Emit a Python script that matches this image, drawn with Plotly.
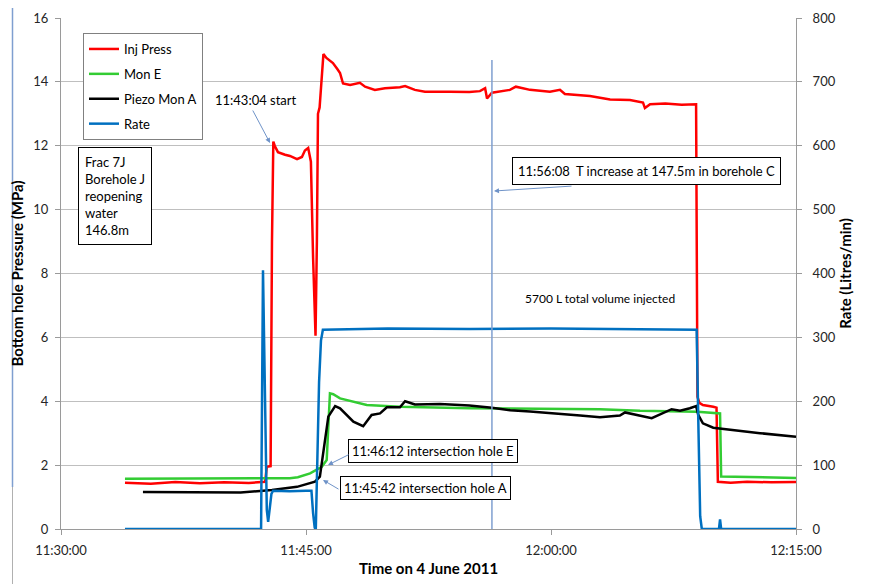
import plotly.graph_objects as go

DATE = "2011-06-04 "

# ---------------- data ----------------
rate_time = ["11:33:55", "11:42:15", "11:42:22", "11:42:30", "11:42:36", "11:42:41",
             "11:42:47", "11:42:53", "11:42:59", "11:44:00", "11:45:00", "11:45:20",
             "11:45:26", "11:45:32", "11:45:36", "11:45:42", "11:45:48", "11:45:55",
             "11:46:02", "11:50:00", "11:55:00", "12:00:00", "12:05:00", "12:08:55",
             "12:09:02", "12:09:08", "12:09:14", "12:10:17", "12:10:21", "12:10:25",
             "12:15:00"]
rate_val = [0, 0, 405, 150, 30, 11,
            30, 55, 60, 59, 60, 60,
            25, 2, 0, 100, 230, 295,
            312, 314, 313, 314, 313, 312,
            150, 20, 0, 0, 15, 0,
            0]

inj_time = ["11:33:55", "11:35:30", "11:37:00", "11:38:30", "11:40:00", "11:41:30",
            "11:42:30", "11:42:36", "11:42:50", "11:42:55", "11:43:00", "11:43:05",
            "11:43:17", "11:43:30", "11:43:43", "11:44:01", "11:44:15", "11:44:27",
            "11:44:45", "11:44:56", "11:45:08", "11:45:18", "11:45:26", "11:45:35",
            "11:45:40", "11:45:44", "11:45:50", "11:46:04", "11:46:15", "11:46:39",
            "11:46:55", "11:47:05", "11:47:16", "11:47:42", "11:48:18", "11:48:37",
            "11:49:13", "11:49:50", "11:50:45", "11:51:04", "11:51:40", "11:52:17",
            "11:53:49", "11:55:00", "11:55:39", "11:55:58", "11:56:05", "11:56:23",
            "11:57:29", "11:57:51", "11:58:43", "11:59:56", "12:00:33", "12:00:51",
            "12:02:23", "12:03:37", "12:04:50", "12:05:38", "12:05:45", "12:06:04",
            "12:07:00", "12:08:00", "12:08:53", "12:08:58", "12:09:05", "12:09:18",
            "12:09:56", "12:10:08", "12:10:13", "12:11:00", "12:12:00", "12:13:30",
            "12:15:00"]
inj_val = [1.45, 1.42, 1.47, 1.43, 1.46, 1.44,
           1.48, 1.95, 1.97, 9.0, 12.13, 12.0,
           11.8, 11.75, 11.72, 11.68, 11.62, 11.58,
           11.65, 11.85, 11.93, 11.5, 8.5, 6.05,
           9.0, 13.0, 13.2, 14.87, 14.75, 14.59,
           14.4, 14.28, 13.95, 13.9, 13.97, 13.85,
           13.75, 13.8, 13.83, 13.87, 13.75, 13.69,
           13.69, 13.68, 13.71, 13.8, 13.48, 13.66,
           13.75, 13.85, 13.75, 13.69, 13.75, 13.62,
           13.56, 13.45, 13.43, 13.35, 13.18, 13.3,
           13.32, 13.28, 13.3, 4.14, 3.95, 3.88,
           3.83, 3.8, 1.48, 1.45, 1.48, 1.46,
           1.47]

mone_time = ["11:33:55", "11:44:01", "11:44:30", "11:45:15", "11:45:58", "11:46:16",
             "11:46:22", "11:46:28", "11:46:40", "11:47:05", "11:48:43", "11:50:45",
             "11:55:00", "12:00:00", "12:03:00", "12:05:27", "12:08:58", "12:10:21",
             "12:10:25", "12:15:00"]
mone_val = [1.57, 1.59, 1.62, 1.74, 1.95, 2.16,
            3.2, 4.25, 4.22, 4.09, 3.88, 3.83,
            3.78, 3.77, 3.75, 3.7, 3.67, 3.62,
            1.64, 1.6]

piezo_time = ["11:35:01", "11:38:00", "11:41:00", "11:42:55", "11:44:27", "11:45:33",
              "11:45:51", "11:46:10", "11:46:22", "11:46:47", "11:47:05", "11:47:54",
              "11:48:30", "11:49:01", "11:49:32", "11:49:57", "11:50:45", "11:51:04",
              "11:51:40", "11:53:12", "11:55:00", "11:56:23", "11:57:30", "11:58:43",
              "11:59:56", "12:01:47", "12:03:00", "12:04:13", "12:04:32", "12:05:27",
              "12:06:10", "12:07:23", "12:07:54", "12:08:30", "12:08:53", "12:09:01",
              "12:09:18", "12:09:56", "12:11:34", "12:12:48", "12:15:00"]
piezo_val = [1.16, 1.15, 1.14, 1.22, 1.32, 1.48,
             1.64, 2.79, 3.52, 3.85, 3.78, 3.36,
             3.22, 3.57, 3.62, 3.81, 3.81, 4.0,
             3.9, 3.91, 3.87, 3.8, 3.72, 3.68,
             3.62, 3.55, 3.5, 3.55, 3.65, 3.54,
             3.47, 3.75, 3.7, 3.78, 3.85, 3.57,
             3.31, 3.17, 3.07, 3.0, 2.89]

event_time = "11:56:23"   # vertical marker line (T increase in borehole C)

x_ticks = ["11:30:00", "11:45:00", "12:00:00", "12:15:00"]

# ---------------- layout helpers ----------------
WIN_W, WIN_H = 882, 584
OFF = 8                      # page body margin of the html page
L, R, T, B = 61, 796, 18, 529  # plot area in window pixels
W, H = WIN_W - OFF, WIN_H - OFF


def px(x):
    return (x - L) / (R - L)


def py(y):
    return 1 - (y - T) / (B - T)


def ts(lst):
    return [DATE + t for t in lst]


FONT = "Lato"
fig = go.Figure()

fig.add_trace(go.Scatter(x=ts(inj_time), y=inj_val, name="Inj Press", mode="lines",
                         line=dict(color="#ff0000", width=2.5), legendgroup="a"))
fig.add_trace(go.Scatter(x=ts(mone_time), y=mone_val, name="Mon E", mode="lines",
                         line=dict(color="#33cc33", width=2.5), legendgroup="b"))
fig.add_trace(go.Scatter(x=ts(piezo_time), y=piezo_val, name="Piezo Mon A", mode="lines",
                         line=dict(color="#000000", width=2.5), legendgroup="c"))
fig.add_trace(go.Scatter(x=ts(rate_time), y=rate_val, name="Rate", mode="lines",
                         line=dict(color="#0070c0", width=2.5), yaxis="y2", legendgroup="d"))

# vertical event line
fig.add_shape(type="line", xref="x", yref="paper", x0=DATE + event_time, x1=DATE + event_time,
              y0=0, y1=py(60), line=dict(color="#7f9fd0", width=1.5))

# outer frame
fig.add_shape(type="rect", xref="paper", yref="paper", x0=px(12.5), x1=px(900), y0=py(7.5), y1=py(600),
              line=dict(color="#b0b0b0", width=1), layer="below")
fig.add_shape(type="line", xref="paper", yref="paper", x0=px(12.5), x1=px(12.5), y0=py(7.5), y1=py(487),
              line=dict(color="#7f9fd0", width=1.5), layer="below")

ann_font = dict(family=FONT, size=13, color="#000000")
ARROW = "#6f93c8"

annotations = [
    dict(text="11:43:04 start", x=px(213), y=py(100), xanchor="left", yanchor="middle",
         showarrow=False, font=ann_font),
    dict(text="", x=px(270), y=py(143), ax=252 - 270, ay=109 - 143, showarrow=True,
         arrowhead=2, arrowsize=1, arrowwidth=1, arrowcolor=ARROW, standoff=0),
    dict(text="Frac 7J<br>Borehole J<br>reopening<br>water<br>146.8m", x=px(78), y=py(147),
         xanchor="left", yanchor="top", align="left", showarrow=False, font=ann_font,
         bordercolor="#000000", borderwidth=1, borderpad=6, bgcolor="#ffffff"),
    dict(text="11:56:08&nbsp;&nbsp;T increase at 147.5m in borehole C", x=px(512), y=py(157),
         xanchor="left", yanchor="top", showarrow=False, font=ann_font,
         bordercolor="#000000", borderwidth=1, borderpad=5, bgcolor="#ffffff"),
    dict(text="", x=px(494), y=py(191), ax=573 - 494, ay=186 - 191, showarrow=True,
         arrowhead=2, arrowsize=1, arrowwidth=1, arrowcolor=ARROW, standoff=0),
    dict(text="5700 L total volume injected", x=px(523), y=py(298), xanchor="left",
         yanchor="middle", showarrow=False, font=dict(family=FONT, size=12, color="#000000")),
    dict(text="11:46:12 intersection hole E", x=px(348), y=py(439), xanchor="left", yanchor="top",
         showarrow=False, font=ann_font, bordercolor="#000000", borderwidth=1, borderpad=3,
         bgcolor="#ffffff"),
    dict(text="", x=px(328), y=py(465), ax=350 - 328, ay=454 - 465, showarrow=True,
         arrowhead=2, arrowsize=1, arrowwidth=1, arrowcolor=ARROW, standoff=0),
    dict(text="11:45:42 intersection hole A", x=px(340), y=py(476), xanchor="left", yanchor="top",
         showarrow=False, font=ann_font, bordercolor="#000000", borderwidth=1, borderpad=3,
         bgcolor="#ffffff"),
    dict(text="", x=px(323), y=py(480), ax=340 - 323, ay=490 - 480, showarrow=True,
         arrowhead=2, arrowsize=1, arrowwidth=1, arrowcolor=ARROW, standoff=0),
]
for a in annotations:
    a.setdefault("xref", "paper")
    a.setdefault("yref", "paper")

tick_font = dict(family=FONT, size=13, color="#262626")
title_font = dict(family=FONT, size=15, color="#000000", weight="bold")

fig.update_layout(
    width=W, height=H,
    margin=dict(l=L - OFF, r=WIN_W - R, t=T - OFF, b=WIN_H - B, pad=0, autoexpand=False),
    paper_bgcolor="#ffffff", plot_bgcolor="#ffffff",
    font=dict(family=FONT, size=13, color="#000000"),
    showlegend=True,
    legend=dict(x=px(83), y=py(33), xanchor="left", yanchor="top", bgcolor="#ffffff",
                bordercolor="#808080", borderwidth=1, font=dict(family=FONT, size=13),
                traceorder="grouped", tracegroupgap=5),
    xaxis=dict(type="date", range=[DATE + "11:30:00", DATE + "12:15:00"], automargin=False,
               tickvals=ts(x_ticks), ticktext=x_ticks, tickfont=tick_font,
               showgrid=False, zeroline=False, showline=True, linecolor="#9a9a9a", linewidth=1,
               ticks="outside", ticklen=5, tickcolor="#9a9a9a", ticklabelstandoff=4,
               title=dict(text="Time on 4 June 2011", font=title_font, standoff=6)),
    yaxis=dict(range=[0, 16], dtick=2, tickfont=tick_font, showgrid=True, gridcolor="#bfbfbf",
               automargin=False,
               zeroline=False, showline=True, linecolor="#9a9a9a", ticks="outside", ticklen=5,
               tickcolor="#9a9a9a", ticklabelstandoff=4,
               title=dict(text="Bottom hole Pressure (MPa)", font=title_font, standoff=6)),
    yaxis2=dict(range=[0, 800], dtick=100, overlaying="y", side="right", tickfont=tick_font,
                automargin=False,
                showgrid=False, zeroline=False, showline=True, linecolor="#9a9a9a", ticks="outside",
                ticklen=5, tickcolor="#9a9a9a", ticklabelstandoff=8,
                title=dict(text="Rate (Litres/min)", font=title_font, standoff=4)),
    annotations=annotations,
)

fig.write_html("out.html")
